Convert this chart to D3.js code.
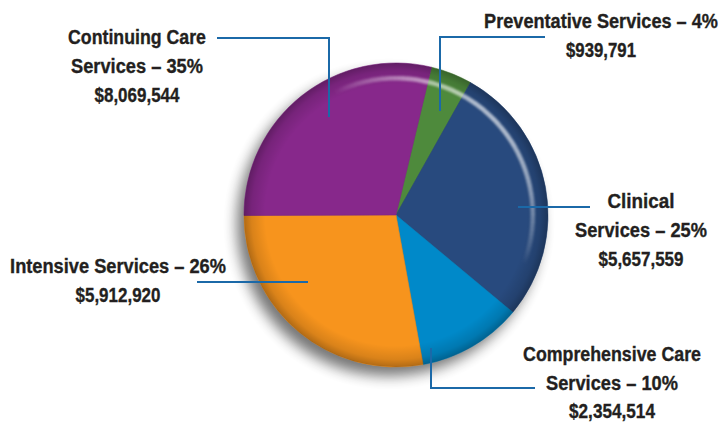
<!DOCTYPE html>
<html>
<head>
<meta charset="utf-8">
<script src="https://cdn.jsdelivr.net/npm/d3@7"></script>
<style>
  html, body { margin: 0; padding: 0; background: #fff; }
  svg { display: block; }
  text { font-family: "Liberation Sans", Arial, sans-serif; font-weight: bold; fill: #231F20; stroke: #231F20; stroke-width: 0.35px; }
</style>
</head>
<body>
<svg id="chart" width="721" height="422"></svg>
<script>
// ---- data ----
const categories   = ["Preventative Services", "Clinical Services", "Comprehensive Care Services", "Intensive Services", "Continuing Care Services"];
const percentLabels = ["4%", "25%", "10%", "26%", "35%"];
const dollarValues = [939791, 5657559, 2354514, 5912920, 8069544];
// share of the circle each slice occupies as drawn in the reference (percent)
const sliceShares  = [4.4, 27.9, 11.1, 27.8, 28.8];
const sliceColors  = ["#4E8A3C", "#284A7E", "#0089C9", "#F7941D", "#87288B"];
// how each category label is broken into lines (before the dollar line)
const labelBreaks  = [
  ["Preventative Services – 4%"],
  ["Clinical", "Services – 25%"],
  ["Comprehensive Care", "Services – 10%"],
  ["Intensive Services – 26%"],
  ["Continuing Care", "Services – 35%"]
];

// ---- layout ----
const W = 721, H = 422;
const cx = 396, cy = 215, R = 152;
const startDeg = 13.5;
const lineH = 29;
// label placement (text centre x, first baseline y, line spacing, rendered line widths) and leader polyline
const layout = [
  { tx: 601, ty: 27.5, lh: 29,   widths: [234, 70],       leader: [[545, 37], [440, 37], [440, 111]] },
  { tx: 641, ty: 208,  lh: 29,   widths: [67, 132, 85],   leader: [[590, 207], [518, 207]] },
  { tx: 612, ty: 361,  lh: 28.5, widths: [178, 132, 86],  leader: [[535, 388], [431, 388], [431, 348]] },
  { tx: 118, ty: 273,  lh: 29,   widths: [216, 85],       leader: [[197, 282], [308, 282]] },
  { tx: 137, ty: 44,   lh: 29,   widths: [138, 132, 85],  leader: [[217, 38], [329, 38], [329, 117]] }
];

const svg = d3.select("#chart");
const defs = svg.append("defs");

// drop shadow
const sh = defs.append("filter").attr("id", "shadow").attr("x", "-30%").attr("y", "-30%").attr("width", "160%").attr("height", "160%");
sh.append("feGaussianBlur").attr("in", "SourceAlpha").attr("stdDeviation", 7).attr("result", "b");
sh.append("feOffset").attr("in", "b").attr("dx", -7).attr("dy", 9).attr("result", "o");
sh.append("feComponentTransfer").attr("in", "o").attr("result", "o2")
  .append("feFuncA").attr("type", "linear").attr("slope", 0.6);

// rim darkening gradient
const rg = defs.append("radialGradient").attr("id", "rim").attr("cx", "50%").attr("cy", "50%").attr("r", "50%");
[[0, 0], [0.86, 0], [0.95, 0.12], [1, 0.28]].forEach(([o, a]) =>
  rg.append("stop").attr("offset", o).attr("stop-color", "#000").attr("stop-opacity", a));

const hb = defs.append("filter").attr("id", "hblur").attr("x", "-20%").attr("y", "-20%").attr("width", "140%").attr("height", "140%");
hb.append("feGaussianBlur").attr("stdDeviation", 1.3);

const g = svg.append("g").attr("transform", `translate(${cx},${cy})`);

// shadow disc
g.append("circle").attr("r", R).attr("fill", "#000").attr("filter", "url(#shadow)").attr("opacity", 0.9);

const pie = d3.pie().sort(null).value(d => d)
  .startAngle(startDeg * Math.PI / 180)
  .endAngle(startDeg * Math.PI / 180 + 2 * Math.PI);
const arcs = pie(sliceShares);
const arc = d3.arc().innerRadius(0).outerRadius(R);

g.selectAll("path.slice").data(arcs).enter().append("path")
  .attr("class", "slice")
  .attr("d", arc)
  .attr("fill", (d, i) => sliceColors[i])
  .attr("stroke", (d, i) => d3.color(sliceColors[i]).darker(0.15))
  .attr("stroke-width", 0.6);

// rim shading
g.append("circle").attr("r", R).attr("fill", "url(#rim)");

// glossy highlight arc (upper-right rim)
const hiStart = -26, hiEnd = 110, nSeg = 80;
const hiArc = d3.arc().innerRadius(R * 0.885).outerRadius(R * 0.915);
const segs = d3.range(nSeg).map(k => {
  const a0 = hiStart + (hiEnd - hiStart) * k / nSeg;
  const a1 = hiStart + (hiEnd - hiStart) * (k + 1.05) / nSeg;
  const t = (k + 0.5) / nSeg;
  return { a0, a1, op: Math.pow(Math.sin(Math.PI * t), 0.8) };
});
g.append("g").attr("filter", "url(#hblur)")
  .selectAll("path").data(segs).enter().append("path")
  .attr("d", s => hiArc({ startAngle: s.a0 * Math.PI / 180, endAngle: s.a1 * Math.PI / 180 }))
  .attr("fill", "#fff")
  .attr("opacity", s => 0.62 * s.op);

// leaders
const line = d3.line();
svg.append("g").selectAll("path").data(layout).enter().append("path")
  .attr("d", d => line(d.leader))
  .attr("fill", "none")
  .attr("stroke", "#1B69A8")
  .attr("stroke-width", 2);

// labels (condensed by horizontal scaling to the reference widths)
const fmt = d3.format("$,");
const labels = svg.append("g");
categories.forEach((c, i) => {
  const lines = labelBreaks[i].concat([fmt(dollarValues[i])]);
  lines.forEach((ln, j) => {
    const w = layout[i].widths[j];
    const t = labels.append("text")
      .attr("x", 0).attr("y", 0)
      .attr("text-anchor", "middle")
      .attr("font-size", 20.5)
      .text(ln);
    const natural = t.node().getComputedTextLength();
    const sx = w / natural;
    t.attr("transform", `translate(${layout[i].tx},${layout[i].ty + j * layout[i].lh}) scale(${sx},1)`);
  });
});
</script>
</body>
</html>
